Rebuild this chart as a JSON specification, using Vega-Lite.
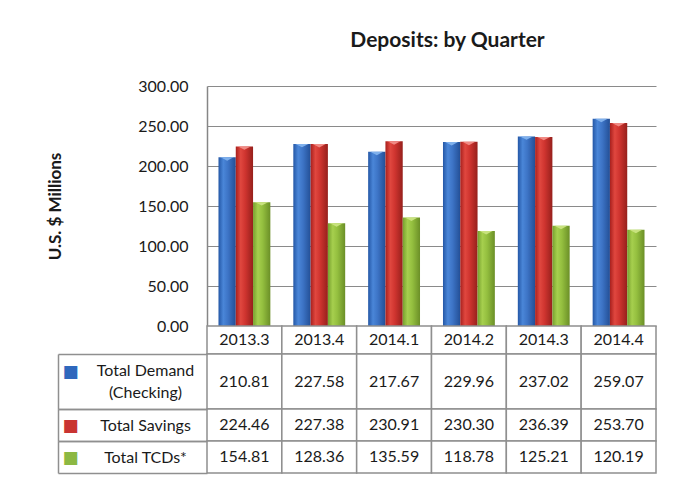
{
  "$schema": "https://vega.github.io/schema/vega-lite/v6.json",
  "background": "white",
  "padding": {"left": 46, "top": 30, "right": 24, "bottom": 5},
  "config": {"view": {"stroke": null}, "font": "Lato", "text": {"font": "Lato"}},
  "datasets": {
    "deposits": [
      {"quarter": "2013.3", "series": "Demand", "label": "Total Demand\n(Checking)", "value": 210.81},
      {"quarter": "2013.3", "series": "Savings", "label": "Total Savings", "value": 224.46},
      {"quarter": "2013.3", "series": "TCDs", "label": "Total TCDs*", "value": 154.81},
      {"quarter": "2013.4", "series": "Demand", "label": "Total Demand\n(Checking)", "value": 227.58},
      {"quarter": "2013.4", "series": "Savings", "label": "Total Savings", "value": 227.38},
      {"quarter": "2013.4", "series": "TCDs", "label": "Total TCDs*", "value": 128.36},
      {"quarter": "2014.1", "series": "Demand", "label": "Total Demand\n(Checking)", "value": 217.67},
      {"quarter": "2014.1", "series": "Savings", "label": "Total Savings", "value": 230.91},
      {"quarter": "2014.1", "series": "TCDs", "label": "Total TCDs*", "value": 135.59},
      {"quarter": "2014.2", "series": "Demand", "label": "Total Demand\n(Checking)", "value": 229.96},
      {"quarter": "2014.2", "series": "Savings", "label": "Total Savings", "value": 230.30},
      {"quarter": "2014.2", "series": "TCDs", "label": "Total TCDs*", "value": 118.78},
      {"quarter": "2014.3", "series": "Demand", "label": "Total Demand\n(Checking)", "value": 237.02},
      {"quarter": "2014.3", "series": "Savings", "label": "Total Savings", "value": 236.39},
      {"quarter": "2014.3", "series": "TCDs", "label": "Total TCDs*", "value": 125.21},
      {"quarter": "2014.4", "series": "Demand", "label": "Total Demand\n(Checking)", "value": 259.07},
      {"quarter": "2014.4", "series": "Savings", "label": "Total Savings", "value": 253.70},
      {"quarter": "2014.4", "series": "TCDs", "label": "Total TCDs*", "value": 120.19}
    ]
  },
  "vconcat": [
    {
      "width": 449, "height": 240,
      "title": {"text": "Deposits: by Quarter", "fontSize": 21, "fontWeight": "bold", "color": "#1a1a1a", "anchor": "middle", "dx": 16, "baseline": "bottom", "offset": 6},
      "data": {"name": "deposits"},
      "encoding": {
        "x": {"field": "quarter", "type": "nominal", "axis": null, "scale": {"paddingInner": 0.307, "paddingOuter": 0.1535}},
        "xOffset": {"field": "series", "type": "nominal", "scale": {"domain": ["Demand", "Savings", "TCDs"], "paddingInner": 0, "paddingOuter": 0}},
        "y": {
          "field": "value", "type": "quantitative",
          "scale": {"domain": [0, 300], "nice": false},
          "axis": {
            "values": [0, 50, 100, 150, 200, 250, 300], "format": ".2f",
            "title": "U.S. $ Millions", "titleFontSize": 17, "titleFontWeight": "bold", "titleColor": "#1a1a1a",
            "titleX": -152, "titleY": 120, "titleBaseline": "middle", "titleAngle": -90,
            "labelFontSize": 16, "labelColor": "#1a1a1a", "labelPadding": 19,
            "ticks": false, "domainColor": "#868686", "domainWidth": 1.5, "gridColor": "#8a8a8a", "gridWidth": 1
          }
        }
      },
      "layer": [
        {"transform": [{"filter": {"field": "series", "equal": "Demand"}}],
         "mark": {"type": "bar", "fill": {"gradient": "linear", "x1": 0, "y1": 0, "x2": 1, "y2": 0, "stops": [{"offset": 0, "color": "#2457a6"}, {"offset": 0.28, "color": "#4a86d8"}, {"offset": 0.55, "color": "#3d74c6"}, {"offset": 1, "color": "#234f96"}]}}},
        {"transform": [{"filter": {"field": "series", "equal": "Savings"}}],
         "mark": {"type": "bar", "fill": {"gradient": "linear", "x1": 0, "y1": 0, "x2": 1, "y2": 0, "stops": [{"offset": 0, "color": "#a8201d"}, {"offset": 0.28, "color": "#e0473f"}, {"offset": 0.55, "color": "#cf342f"}, {"offset": 1, "color": "#96201c"}]}}},
        {"transform": [{"filter": {"field": "series", "equal": "TCDs"}}],
         "mark": {"type": "bar", "fill": {"gradient": "linear", "x1": 0, "y1": 0, "x2": 1, "y2": 0, "stops": [{"offset": 0, "color": "#76a02e"}, {"offset": 0.28, "color": "#a6cf4e"}, {"offset": 0.55, "color": "#94bf3f"}, {"offset": 1, "color": "#6b8f27"}]}}},
        {"mark": {"type": "point", "shape": "M-0.75,0L0.75,0L0,0.4Z", "filled": true, "size": 290, "opacity": 1, "strokeWidth": 0},
         "encoding": {"color": {"field": "series", "type": "nominal", "legend": null, "scale": {"domain": ["Demand", "Savings", "TCDs"], "range": ["#7fb0ec", "#f08a84", "#c8e27e"]}}}}
      ]
    },
    {
      "width": 449, "height": 28,
      "data": {"name": "deposits"},
      "transform": [{"filter": {"field": "series", "equal": "Demand"}}],
      "encoding": {
        "x": {"field": "quarter", "type": "nominal", "axis": null, "scale": {"paddingInner": 0, "paddingOuter": 0}},
        "y": {"field": "series", "type": "nominal", "axis": null, "scale": {"paddingInner": 0, "paddingOuter": 0}}
      },
      "layer": [
        {"mark": {"type": "rect", "fill": "white", "stroke": "#8f8f8f", "strokeWidth": 1.5}},
        {"mark": {"type": "text", "fontSize": 16, "color": "#1a1a1a"}, "encoding": {"text": {"field": "quarter"}}}
      ]
    },
    {
      "width": 449, "height": 55,
      "data": {"name": "deposits"},
      "transform": [{"filter": {"field": "series", "equal": "Demand"}}],
      "encoding": {"x": {"field": "quarter", "type": "nominal", "axis": null, "scale": {"paddingInner": 0, "paddingOuter": 0}}},
      "layer": [
        {"mark": {"type": "rect", "fill": "white", "stroke": "#8f8f8f", "strokeWidth": 1.5},
         "encoding": {"y": {"field": "label", "type": "nominal", "scale": {"paddingInner": 0, "paddingOuter": 0},
           "axis": {"orient": "left", "title": null, "grid": false, "domain": false, "ticks": true, "tickBand": "extent", "tickSize": 149, "tickColor": "#8f8f8f", "tickWidth": 1.5,
                    "labelAlign": "center", "labelBaseline": "middle", "labelPadding": -87, "labelFontSize": 16, "labelColor": "#1a1a1a", "labelLimit": 0, "labelLineHeight": 22, "labelOffset": -11,
                    "labelExpr": "split(datum.label, '\\n')"}}}},
        {"mark": {"type": "text", "fontSize": 16, "color": "#1a1a1a"},
         "encoding": {"text": {"field": "value", "type": "quantitative", "format": ".2f"},
           "y": {"field": "label", "type": "nominal", "scale": {"paddingInner": 0, "paddingOuter": 0},
             "axis": {"orient": "left", "title": null, "grid": false, "offset": 149, "domain": true, "domainColor": "#8f8f8f", "domainWidth": 1.5, "ticks": false,
                      "labelExpr": "'■'", "labelAlign": "center", "labelBaseline": "middle", "labelPadding": -12, "labelFontSize": 17, "labelFont": "DejaVu Sans", "labelColor": "#2f68bd", "labelOffset": -10}}}}
      ],
      "resolve": {"scale": {"y": "independent"}, "axis": {"y": "independent"}}
    },
    {
      "width": 449, "height": 32,
      "data": {"name": "deposits"},
      "transform": [{"filter": {"field": "series", "equal": "Savings"}}],
      "encoding": {"x": {"field": "quarter", "type": "nominal", "axis": null, "scale": {"paddingInner": 0, "paddingOuter": 0}}},
      "layer": [
        {"mark": {"type": "rect", "fill": "white", "stroke": "#8f8f8f", "strokeWidth": 1.5},
         "encoding": {"y": {"field": "label", "type": "nominal", "scale": {"paddingInner": 0, "paddingOuter": 0},
           "axis": {"orient": "left", "title": null, "grid": false, "domain": false, "ticks": true, "tickBand": "extent", "tickSize": 149, "tickColor": "#8f8f8f", "tickWidth": 1.5,
                    "labelAlign": "center", "labelBaseline": "middle", "labelPadding": -87, "labelFontSize": 16, "labelColor": "#1a1a1a", "labelLimit": 0}}}},
        {"mark": {"type": "text", "fontSize": 16, "color": "#1a1a1a"},
         "encoding": {"text": {"field": "value", "type": "quantitative", "format": ".2f"},
           "y": {"field": "label", "type": "nominal", "scale": {"paddingInner": 0, "paddingOuter": 0},
             "axis": {"orient": "left", "title": null, "grid": false, "offset": 149, "domain": true, "domainColor": "#8f8f8f", "domainWidth": 1.5, "ticks": false,
                      "labelExpr": "'■'", "labelAlign": "center", "labelBaseline": "middle", "labelPadding": -12, "labelFontSize": 17, "labelFont": "DejaVu Sans", "labelColor": "#c93432"}}}}
      ],
      "resolve": {"scale": {"y": "independent"}, "axis": {"y": "independent"}}
    },
    {
      "width": 449, "height": 32,
      "data": {"name": "deposits"},
      "transform": [{"filter": {"field": "series", "equal": "TCDs"}}],
      "encoding": {"x": {"field": "quarter", "type": "nominal", "axis": null, "scale": {"paddingInner": 0, "paddingOuter": 0}}},
      "layer": [
        {"mark": {"type": "rect", "fill": "white", "stroke": "#8f8f8f", "strokeWidth": 1.5},
         "encoding": {"y": {"field": "label", "type": "nominal", "scale": {"paddingInner": 0, "paddingOuter": 0},
           "axis": {"orient": "left", "title": null, "grid": false, "domain": false, "ticks": true, "tickBand": "extent", "tickSize": 149, "tickColor": "#8f8f8f", "tickWidth": 1.5,
                    "labelAlign": "center", "labelBaseline": "middle", "labelPadding": -87, "labelFontSize": 16, "labelColor": "#1a1a1a", "labelLimit": 0}}}},
        {"mark": {"type": "text", "fontSize": 16, "color": "#1a1a1a"},
         "encoding": {"text": {"field": "value", "type": "quantitative", "format": ".2f"},
           "y": {"field": "label", "type": "nominal", "scale": {"paddingInner": 0, "paddingOuter": 0},
             "axis": {"orient": "left", "title": null, "grid": false, "offset": 149, "domain": true, "domainColor": "#8f8f8f", "domainWidth": 1.5, "ticks": false,
                      "labelExpr": "'■'", "labelAlign": "center", "labelBaseline": "middle", "labelPadding": -12, "labelFontSize": 17, "labelFont": "DejaVu Sans", "labelColor": "#8cb843"}}}}
      ],
      "resolve": {"scale": {"y": "independent"}, "axis": {"y": "independent"}}
    }
  ],
  "spacing": 0,
  "bounds": "flush"
}
